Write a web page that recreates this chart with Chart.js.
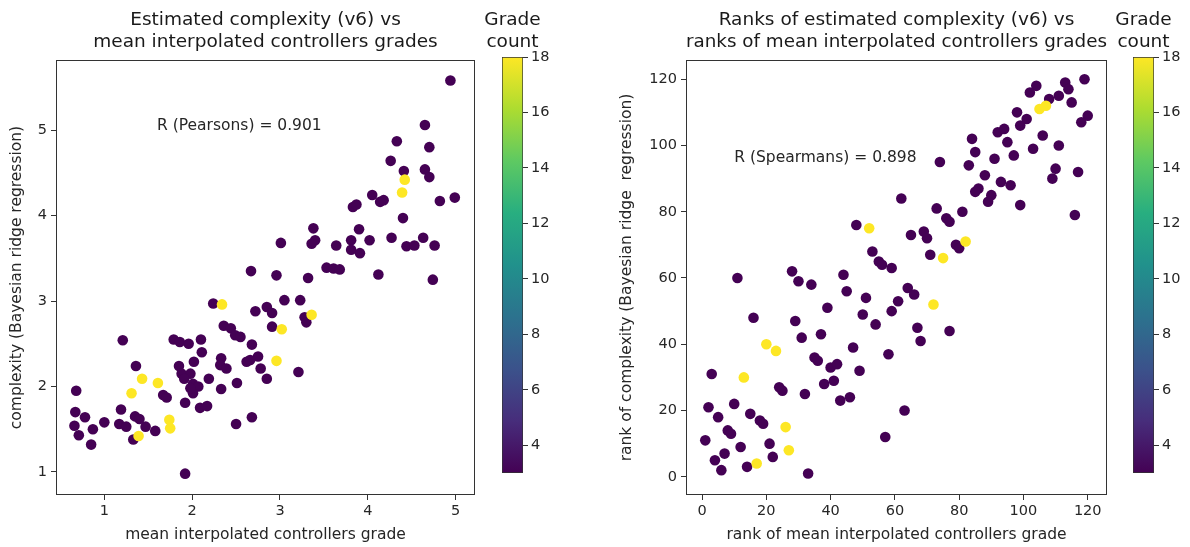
<!DOCTYPE html>
<html>
<head>
<meta charset="utf-8">
<script src="https://cdn.jsdelivr.net/npm/chart.js@4.4.0/dist/chart.umd.min.js"></script>
<style>
  html, body { margin: 0; padding: 0; background: #fff; overflow: hidden; }
  body { width: 1190px; height: 547px; position: relative; }
  canvas { position: absolute; top: 0; }
</style>
</head>
<body>
<canvas id="mainL" width="530" height="547" style="left:0px"></canvas>
<canvas id="barL" width="100" height="547" style="left:462px"></canvas>
<canvas id="mainR" width="520" height="547" style="left:596px"></canvas>
<canvas id="barR" width="97" height="547" style="left:1093px"></canvas>
<script>
// left panel: mean interpolated grade vs estimated complexity
const gradeL = [4.94, 4.65, 4.33, 4.70, 4.26, 4.41, 4.65, 4.70, 4.82, 4.99, 4.40, 4.05, 4.14, 4.18, 3.83, 3.87,
  3.38, 3.40, 3.36, 3.90, 3.81, 3.81, 3.91, 4.02, 4.27, 4.44, 4.53, 4.63, 4.76, 3.01, 3.64, 2.67, 2.96, 3.32,
  3.53, 3.61, 3.68, 4.12, 4.74, 2.24, 3.05, 3.23, 2.72, 2.85, 2.91, 3.28, 3.30, 2.36, 2.44, 2.49, 2.55, 2.91,
  1.21, 1.79, 1.86, 1.96, 2.10, 2.11, 2.68, 2.75, 2.62, 2.66, 2.33, 2.32, 2.39, 2.02, 1.85, 1.36, 2.78, 2.85,
  3.21, 0.68, 1.88, 1.98, 1.91, 2.01, 2.07, 2.01, 1.98, 2.19, 2.33, 2.51, 1.67, 1.71, 1.92, 2.09, 2.17, 1.19,
  0.67, 0.78, 0.66, 0.71, 0.87, 1.00, 0.85, 1.17, 1.25, 1.35, 1.40, 1.47, 1.33, 1.58, 2.50, 2.68, 1.92,
  2.34, 3.36, 3.02, 2.96, 1.43, 1.61, 1.31, 1.39, 1.74, 1.75, 4.42, 4.39]
const complexL = [5.58, 5.06, 4.87, 4.80, 4.64, 4.52, 4.54, 4.45, 4.17, 4.21, 3.97, 4.24, 4.16, 4.18, 4.10, 4.13,
  3.85, 3.71, 3.67, 3.84, 3.71, 3.60, 3.56, 3.71, 3.74, 3.64, 3.65, 3.74, 3.65, 3.68, 3.65, 3.35, 3.30, 3.27,
  3.39, 3.38, 3.37, 3.31, 3.25, 2.97, 3.01, 3.01, 2.88, 2.93, 2.86, 2.81, 2.75, 2.71, 2.68, 2.60, 2.58, 2.70,
  2.54, 2.55, 2.52, 2.50, 2.55, 2.40, 2.49, 2.35, 2.29, 2.31, 2.33, 2.25, 2.21, 2.29, 2.24, 2.24, 2.21, 2.09,
  2.17, 1.95, 2.15, 2.15, 2.09, 2.03, 2.00, 1.92, 1.98, 2.09, 1.97, 2.04, 1.90, 1.87, 1.81, 1.75, 1.77, 1.73,
  1.70, 1.64, 1.54, 1.43, 1.50, 1.58, 1.32, 1.56, 1.53, 1.65, 1.62, 1.53, 1.38, 1.48, 1.56, 1.64, 0.98,
  2.96, 2.84, 2.67, 2.30, 2.09, 2.04, 1.92, 1.42, 1.61, 1.51, 4.42, 4.27]
const countL = gradeL.map((v, i) => (i >= 105 ? 18 : 3))

// right panel: ranks of the same quantities
const rankGradeR = [119, 113, 114, 111, 115, 104, 102, 108, 105, 107, 120, 118, 98, 101, 99, 92, 94, 106, 111, 103,
  84, 95, 85, 91, 97, 74, 83, 110, 109, 117, 88, 93, 96, 86, 85, 90, 89, 99, 116, 62, 73, 76, 77, 81, 48, 52,
  65, 69, 70, 71, 75, 79, 80, 82, 53, 55, 56, 59, 11, 28, 30, 34, 44, 45, 51, 61, 59, 64, 66, 72, 39, 50, 54,
  16, 29, 31, 37, 67, 68, 77, 47, 58, 20, 23, 35, 36, 40, 42, 49, 3, 13, 24, 25, 38, 41, 32, 43, 46, 2, 5, 10,
  15, 18, 19, 26, 1, 8, 9, 12, 21, 4, 7, 6, 14, 17, 22, 27, 33, 57, 63]
const rankComplexR = [120, 119, 117, 115, 113, 118, 116, 114, 111, 112, 109, 107, 110, 108, 106, 104, 105, 103, 100, 99,
  102, 101, 98, 96, 97, 95, 94, 93, 90, 92, 91, 89, 88, 87, 86, 85, 83, 82, 79, 84, 81, 78, 77, 80, 76, 75,
  73, 74, 72, 67, 66, 70, 69, 71, 68, 65, 64, 63, 60, 62, 59, 58, 61, 56, 54, 53, 50, 57, 55, 52, 51, 49, 46,
  48, 47, 42, 43, 45, 41, 44, 39, 37, 40, 38, 36, 35, 33, 34, 32, 31, 30, 27, 26, 28, 29, 25, 23, 24, 21, 18, 22,
  19, 17, 16, 15, 11, 14, 13, 9, 10, 5, 7, 2, 3, 4, 6, 8, 1, 12, 20]
const yellowR = [8, 9, 45, 50, 53, 69, 82, 83, 90, 104, 114, 116]
const countR = rankGradeR.map((v, i) => (yellowR.includes(i) ? 18 : 3))

const xTicksL = [1, 2, 3, 4, 5]
const yTicksL = [1, 2, 3, 4, 5]
const xTicksR = [0, 20, 40, 60, 80, 100, 120]
const yTicksR = [0, 20, 40, 60, 80, 100, 120]
const cbTicks = [4, 6, 8, 10, 12, 14, 16, 18]

const FONT = "DejaVu Sans"
const TXT = "#262626"
const TITLE_SIZE = 18.5
const LABEL_SIZE = 15.5
const TICK_SIZE = 14.5

const viridisStops = ["#440154", "#472d7b", "#3b528b", "#2c728e", "#21918c", "#28ae80", "#5ec962", "#addc30", "#fde725"]

const hexRgb = (h) => [1, 3, 5].map((k) => parseInt(h.slice(k, k + 2), 16))
const viridis = (t) => {
  t = Math.max(0, Math.min(1, t))
  const p = t * (viridisStops.length - 1)
  const i = Math.min(Math.floor(p), viridisStops.length - 2)
  const f = p - i
  const a = hexRgb(viridisStops[i])
  const b = hexRgb(viridisStops[i + 1])
  const c = a.map((v, k) => Math.round(v + (b[k] - v) * f))
  return `rgb(${c[0]},${c[1]},${c[2]})`
}
const cmin = 3
const cmax = 18

// box around the axes + the correlation note
const framePlugin = {
  id: "frame",
  afterDatasetsDraw(chart, args, opts) {
    const { ctx, chartArea: a, scales } = chart
    ctx.save()
    ctx.strokeStyle = "#333"
    ctx.lineWidth = 1
    ctx.strokeRect(Math.round(a.left) + 0.5, Math.round(a.top) + 0.5, Math.round(a.width) - 1, Math.round(a.height) - 1)
    if (opts.text) {
      ctx.fillStyle = TXT
      ctx.font = `${LABEL_SIZE}px "${FONT}"`
      ctx.textBaseline = "alphabetic"
      ctx.textAlign = "left"
      ctx.fillText(opts.text, scales.x.getPixelForValue(opts.x), scales.y.getPixelForValue(opts.y))
    }
    ctx.restore()
  },
}

// colorbar heading, centred on the bar (built-in title would squeeze it to the bar width)
const cbTitlePlugin = {
  id: "cbTitle",
  afterDraw(chart, args, opts) {
    const { ctx, chartArea: a } = chart
    const cx = (a.left + a.right) / 2
    ctx.save()
    ctx.fillStyle = "#1a1a1a"
    ctx.font = `${TITLE_SIZE}px "${FONT}"`
    ctx.textAlign = "center"
    ctx.textBaseline = "middle"
    opts.lines.forEach((t, i) => ctx.fillText(t, cx, opts.top + i * opts.lineGap))
    ctx.restore()
  },
}

const fixTicks = (vals) => (scale) => {
  scale.ticks = vals.map((v) => ({ value: v }))
}

function makeScatter(id, xs, ys, counts, cfg) {
  const pts = xs.map((x, i) => ({ x, y: ys[i] }))
  return new Chart(document.getElementById(id), {
    type: "scatter",
    data: {
      datasets: [
        {
          data: pts,
          pointRadius: 5.3,
          pointBorderWidth: 0,
          pointBackgroundColor: counts.map((c) => viridis((c - cmin) / (cmax - cmin))),
        },
      ],
    },
    options: {
      responsive: false,
      animation: false,
      events: [],
      layout: { autoPadding: false, padding: { left: cfg.padLeft, right: cfg.padRight, top: 0, bottom: 0 } },
      scales: {
        x: {
          type: "linear",
          min: cfg.xMin,
          max: cfg.xMax,
          afterBuildTicks: fixTicks(cfg.xTicks),
          afterFit: (s) => { s.height = 52 },
          grid: { drawOnChartArea: false, drawTicks: true, tickLength: 5, color: "#333" },
          border: { display: false },
          ticks: { color: TXT, padding: 3, maxRotation: 0, font: { family: FONT, size: TICK_SIZE } },
          title: { display: true, text: cfg.xTitle, color: TXT, padding: { top: 2, bottom: 3 }, font: { family: FONT, size: LABEL_SIZE } },
        },
        y: {
          type: "linear",
          min: cfg.yMin,
          max: cfg.yMax,
          afterBuildTicks: fixTicks(cfg.yTicks),
          afterFit: (s) => { s.width = cfg.yWidth },
          grid: { drawOnChartArea: false, drawTicks: true, tickLength: 5, color: "#333" },
          border: { display: false },
          ticks: { color: TXT, padding: 4, font: { family: FONT, size: TICK_SIZE } },
          title: { display: true, text: cfg.yTitle, color: TXT, padding: { top: 3, bottom: 2 }, font: { family: FONT, size: LABEL_SIZE } },
        },
      },
      plugins: {
        legend: { display: false },
        tooltip: { enabled: false },
        title: {
          display: true,
          fullSize: false,
          text: cfg.title,
          color: "#1a1a1a",
          padding: { top: 9, bottom: 7 },
          font: { family: FONT, size: TITLE_SIZE, weight: "normal", lineHeight: 22 / TITLE_SIZE },
        },
        frame: { text: cfg.note, x: cfg.noteX, y: cfg.noteY },
      },
    },
    plugins: [framePlugin],
  })
}

function makeColorbar(id, yWidth) {
  return new Chart(document.getElementById(id), {
    type: "bar",
    data: {
      labels: ["count"],
      datasets: [
        {
          data: [[cmin, cmax]],
          barPercentage: 1,
          categoryPercentage: 1,
          borderSkipped: false,
          borderWidth: 1,
          borderColor: "#333",
          backgroundColor: (ctx) => {
            const area = ctx.chart.chartArea
            if (!area) return viridisStops[0]
            const g = ctx.chart.ctx.createLinearGradient(0, area.bottom, 0, area.top)
            viridisStops.forEach((c, i) => g.addColorStop(i / (viridisStops.length - 1), c))
            return g
          },
        },
      ],
    },
    options: {
      responsive: false,
      animation: false,
      events: [],
      layout: { autoPadding: false, padding: { left: 40, right: 0, top: 57, bottom: 74 } },
      scales: {
        x: { display: false },
        y: {
          position: "right",
          min: cmin,
          max: cmax,
          afterBuildTicks: fixTicks(cbTicks),
          afterFit: (s) => { s.width = yWidth },
          grid: { drawOnChartArea: false, drawTicks: true, tickLength: 5, color: "#333" },
          border: { display: false },
          ticks: { color: TXT, padding: 3, font: { family: FONT, size: TICK_SIZE } },
        },
      },
      plugins: {
        legend: { display: false },
        tooltip: { enabled: false },
        cbTitle: { lines: ["Grade", "count"], top: 20, lineGap: 22 },
      },
    },
    plugins: [cbTitlePlugin],
  })
}

makeScatter("mainL", gradeL, complexL, countL, {
  padLeft: 5, padRight: 55, yWidth: 51,
  xMin: 0.45, xMax: 5.22, yMin: 0.73, yMax: 5.82,
  xTicks: xTicksL, yTicks: yTicksL,
  xTitle: "mean interpolated controllers grade",
  yTitle: "complexity (Bayesian ridge regression)",
  title: ["Estimated complexity (v6) vs", "mean interpolated controllers grades"],
  note: "R (Pearsons) = 0.901", noteX: 1.6, noteY: 5,
})
makeColorbar("barL", 39)

makeScatter("mainR", rankGradeR, rankComplexR, countR, {
  padLeft: 19, padRight: 9, yWidth: 71,
  xMin: -5, xMax: 126, yMin: -5.5, yMax: 125.8,
  xTicks: xTicksR, yTicks: yTicksR,
  xTitle: "rank of mean interpolated controllers grade",
  yTitle: "rank of complexity (Bayesian ridge  regression)",
  title: ["Ranks of estimated complexity (v6) vs", "ranks of mean interpolated controllers grades"],
  note: "R (Spearmans) = 0.898", noteX: 10, noteY: 95,
})
makeColorbar("barR", 36)
</script>
</body>
</html>
